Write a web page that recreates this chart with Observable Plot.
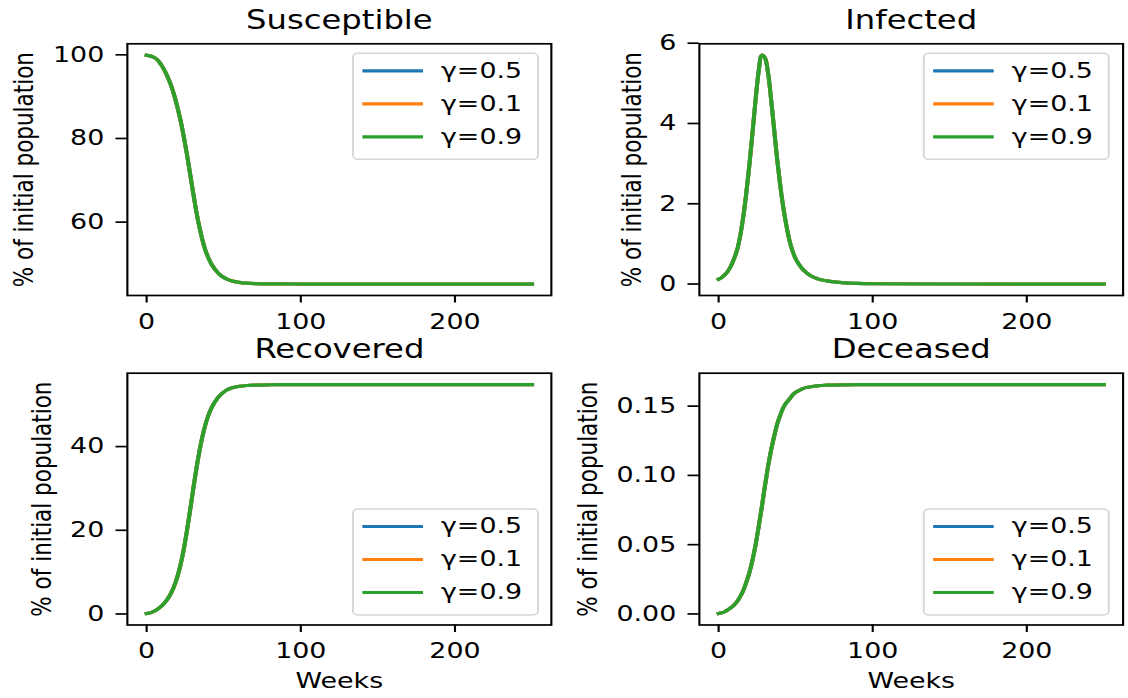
<!DOCTYPE html>
<html><head><meta charset="utf-8">
<script src="https://cdn.jsdelivr.net/npm/d3@7"></script>
<script src="https://cdn.jsdelivr.net/npm/@observablehq/plot@0.6"></script>
<style>
html,body{margin:0;padding:0;background:#fff;overflow:hidden;}
#wrap{position:absolute;left:0;top:0;width:902.4px;height:698px;transform:scaleX(1.25);transform-origin:0 0;}
.panel{position:absolute;}
</style></head><body><div id="wrap"></div>
<script>
// ---- data ----
const weeks       = [0,2,4,6,8,10,12,14,16,18,20,22,24,26,28,30,32,34,36,38,40,42,44,46,48,50,52,55,60,65,70,80,90,100,150,250];
const susceptible = [99.9,99.75,99.5,99.1,98.4,97.3,96.0,94.4,92.5,90.2,87.4,84.3,80.6,76.5,72.0,67.4,63.0,59.2,56.0,53.4,51.5,50.0,48.9,48.0,47.3,46.8,46.4,46.0,45.6,45.4,45.3,45.25,45.22,45.2,45.2,45.2];
const infected    = [0.12,0.16,0.23,0.32,0.45,0.63,0.85,1.2,1.68,2.28,2.98,3.78,4.6,5.3,5.70,5.64,5.28,4.62,3.86,3.1,2.45,1.9,1.45,1.08,0.82,0.63,0.5,0.35,0.2,0.12,0.08,0.035,0.015,0.007,0.001,0.0];
const recovered   = [0.1,0.25,0.5,0.9,1.4,2.0,2.8,3.8,5.1,6.8,9.0,11.8,15.3,19.6,24.3,29.3,34.1,38.4,42.1,45.1,47.4,49.2,50.5,51.6,52.4,53.0,53.5,54.0,54.4,54.6,54.7,54.77,54.79,54.8,54.8,54.8];
const deceased    = [0.0003,0.0008,0.0016,0.003,0.0045,0.0065,0.009,0.0125,0.017,0.023,0.030,0.039,0.050,0.063,0.077,0.092,0.106,0.118,0.128,0.137,0.1435,0.149,0.1525,0.155,0.158,0.160,0.1612,0.1628,0.164,0.1648,0.1651,0.1654,0.1655,0.1655,0.1655,0.1655];
const gammaLabels = ["γ=0.5","γ=0.1","γ=0.9"];
const gammaColors = ["#1f77b4","#ff7f0e","#2ca02c"];
const xTicks = [0,100,200];
const titles = ["Susceptible","Infected","Recovered","Deceased"];
const yTicksS = [60,80,100];
const yTicksI = [0,2,4,6];
const yTicksR = [0,20,40];
const yTicksD = [0,0.05,0.10,0.15];
const yLabel = "% of initial population";
const xLabel = "Weeks";

// ---- layout (pre-stretch units; the whole figure is stretched horizontally) ----
const colW = 451.2;
const rows = [
  {top:0,   height:336, mt:43.3, mb:41},
  {top:336, height:362, mt:36.7, mb:73.5}
];
const cols = [
  {left:0,    ml:101.4, mr:10.6, legInset:10.2},
  {left:colW, ml:108,   mr:4.2,  legInset:11}
];

const panels = [
  {title:titles[0], values:susceptible, ticks:yTicksS, fmt:d3.format("d"),   row:0, col:0, legend:"top",    ylo:82.7, curve:"monotone-x", xlabel:false},
  {title:titles[1], values:infected,    ticks:yTicksI, fmt:d3.format("d"),   row:0, col:1, legend:"top",    ylo:53.2, curve:"catmull-rom", xlabel:false},
  {title:titles[2], values:recovered,   ticks:yTicksR, fmt:d3.format("d"),   row:1, col:0, legend:"bottom", ylo:67.8, curve:"monotone-x", xlabel:true},
  {title:titles[3], values:deceased,    ticks:yTicksD, fmt:d3.format(".2f"), row:1, col:1, legend:"bottom", ylo:88.8, curve:"monotone-x", xlabel:true}
];

function legendMark(pos, inset) {
  return (index, scales, values, dims) => {
    const {width, height, marginRight, marginTop, marginBottom} = dims;
    const boxW = 148, boxH = 106;
    const x0 = width - marginRight - inset - boxW;
    const y0 = pos === "top" ? marginTop + 10 : height - marginBottom - 9.5 - boxH;
    const g = d3.create("svg:g");
    g.append("rect").attr("x", x0).attr("y", y0).attr("width", boxW).attr("height", boxH)
      .attr("rx", 4).attr("fill", "white").attr("fill-opacity", 0.8)
      .attr("stroke", "#d6d6d6").attr("stroke-width", 1.5);
    gammaLabels.forEach((lab, i) => {
      const y = y0 + 17.5 + i * 33;
      g.append("line").attr("x1", x0 + 7.5).attr("x2", x0 + 56).attr("y1", y).attr("y2", y)
        .attr("stroke", gammaColors[i]).attr("stroke-width", 3.2);
      g.append("text").attr("x", x0 + 70.4).attr("y", y).attr("dy", "0.32em")
        .attr("text-anchor", "start")
        .attr("fill", "black").attr("font-size", 21.5).text(lab);
    });
    return g.node();
  };
}

const wrap = document.getElementById("wrap");
for (const p of panels) {
  const r = rows[p.row], c = cols[p.col];
  const data = weeks.map((w, i) => ({week: w, value: p.values[i]}));
  const [lo, hi] = d3.extent(p.values);
  const pad = (hi - lo) * 0.05;
  const marks = [];
  gammaColors.forEach((col) => {
    marks.push(Plot.line(data, {x: "week", y: "value", stroke: col, strokeWidth: 3.2, curve: p.curve, strokeLinecap: "square"}));
  });
  marks.push(Plot.frame({stroke: "black", strokeWidth: 1.7}));
  marks.push(Plot.axisX({ticks: xTicks, tickSize: 7.5, tickPadding: 10.5, label: null, strokeWidth: 1.7, fontSize: 21.5}));
  marks.push(Plot.axisY({ticks: p.ticks, tickFormat: p.fmt, tickSize: 9, tickPadding: 9.5, label: null, strokeWidth: 1.7, fontSize: 21.5}));
  marks.push(Plot.text([p.title], {text: d => d, frameAnchor: "top", dy: -15, lineAnchor: "bottom", fontSize: 25.8, fill: "black"}));
  marks.push(Plot.text([yLabel], {text: d => d, frameAnchor: "left", dx: -p.ylo, rotate: -90, textAnchor: "middle", lineAnchor: "middle", fontSize: 21.5, fill: "black"}));
  if (p.xlabel) marks.push(Plot.text([xLabel], {text: d => d, frameAnchor: "bottom", dy: 47.5, lineAnchor: "top", fontSize: 21.5, fill: "black"}));
  marks.push(legendMark(p.legend, c.legInset));
  const chart = Plot.plot({
    width: colW, height: r.height,
    marginTop: r.mt, marginBottom: r.mb, marginLeft: c.ml, marginRight: c.mr,
    x: {domain: [-12.5, 262.5]},
    y: {domain: [lo - pad, hi + pad]},
    style: {fontFamily: "DejaVu Sans", fontSize: "21.5px", color: "black", background: "white", overflow: "visible"},
    marks
  });
  const div = document.createElement("div");
  div.className = "panel";
  div.style.left = c.left + "px";
  div.style.top = r.top + "px";
  div.appendChild(chart);
  wrap.appendChild(div);
}
</script></body></html>
